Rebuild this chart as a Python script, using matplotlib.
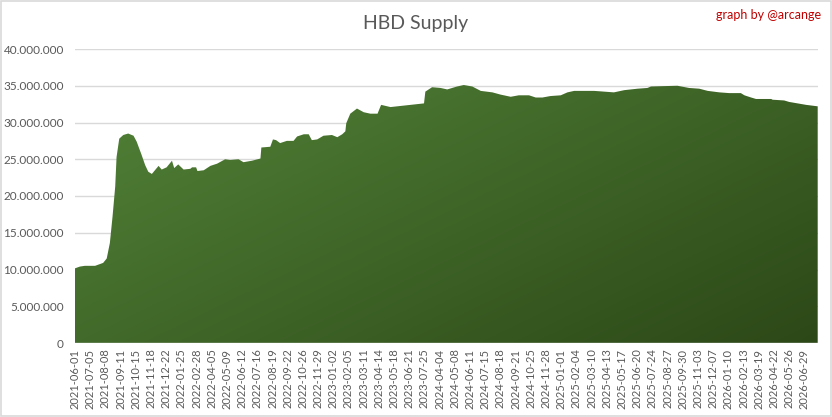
import numpy as np
import matplotlib
matplotlib.use("Agg")
import matplotlib.pyplot as plt
from matplotlib.ticker import FuncFormatter, FixedLocator
from matplotlib.patches import Rectangle
from matplotlib.colors import to_rgb

# Category labels (every 34th data point is labelled)
tick_labels = [
    "2021-06-01", "2021-07-05", "2021-08-08", "2021-09-11", "2021-10-15", "2021-11-18",
    "2021-12-22", "2022-01-25", "2022-02-28", "2022-04-05", "2022-05-09", "2022-06-12",
    "2022-07-16", "2022-08-19", "2022-09-22", "2022-10-26", "2022-11-29", "2023-01-02",
    "2023-02-05", "2023-03-11", "2023-04-14", "2023-05-18", "2023-06-21", "2023-07-25",
    "2024-04-04", "2024-05-08", "2024-06-11", "2024-07-15", "2024-08-18", "2024-09-21",
    "2024-10-25", "2024-11-28", "2025-01-01", "2025-02-04", "2025-03-10", "2025-04-13",
    "2025-05-17", "2025-06-20", "2025-07-24", "2025-08-27", "2025-09-30", "2025-11-03",
    "2025-12-07", "2026-01-10", "2026-02-13", "2026-03-19", "2026-04-22", "2026-05-26",
    "2026-06-29",
]
label_step = 34
n_points = 1663

# Sampled points: position in the category index, supply in millions of HBD
point_index = [
    0, 11, 22, 45, 63, 71, 78, 84, 90, 93, 99, 108, 119, 131, 138, 149, 157, 164, 172,
    187, 194, 205, 217, 222, 231, 243, 258, 262, 271, 274, 288, 303, 318, 336, 347, 366,
    377, 396, 415, 417, 437, 443, 450, 459, 474, 489, 497, 512, 523, 530, 542, 556, 575,
    587, 598, 605, 607, 616, 631, 646, 661, 677, 685, 706, 721, 751, 781, 784, 799, 818,
    833, 855, 870, 889, 908, 934, 952, 975, 993, 1016, 1031, 1046, 1064, 1087, 1102, 1117,
    1162, 1184, 1206, 1229, 1259, 1281, 1289, 1348, 1374, 1397, 1416, 1442, 1464, 1490,
    1498, 1513, 1524, 1558, 1561, 1587, 1598, 1617, 1636, 1662,
]
supply_millions = [
    10.16, 10.4, 10.5, 10.5, 10.9, 11.5, 13.6, 17.2, 21.3, 25.3, 27.8, 28.3, 28.5, 28.2,
    27.4, 25.6, 24.2, 23.3, 23.0, 24.1, 23.6, 23.9, 24.8, 23.8, 24.3, 23.6, 23.7, 23.9,
    23.9, 23.4, 23.5, 24.1, 24.4, 25.0, 24.9, 25.0, 24.6, 24.8, 25.1, 26.6, 26.7, 27.7,
    27.6, 27.2, 27.5, 27.5, 28.1, 28.4, 28.4, 27.6, 27.7, 28.2, 28.3, 28.0, 28.4, 28.8,
    29.9, 31.2, 31.9, 31.4, 31.2, 31.2, 32.4, 32.1, 32.2, 32.4, 32.6, 34.2, 34.8, 34.7,
    34.5, 34.9, 35.1, 34.9, 34.3, 34.1, 33.8, 33.5, 33.7, 33.7, 33.4, 33.4, 33.6, 33.7,
    34.1, 34.3, 34.3, 34.2, 34.1, 34.4, 34.6, 34.7, 34.9, 35.0, 34.7, 34.6, 34.3, 34.1,
    34.0, 34.0, 33.7, 33.4, 33.2, 33.2, 33.1, 33.0, 32.8, 32.6, 32.4, 32.2,
]
yticks = [0, 5e6, 10e6, 15e6, 20e6, 25e6, 30e6, 35e6, 40e6]

plt.rcParams['font.family'] = ['Lato', 'DejaVu Sans']

fig = plt.figure(figsize=(8.32, 4.17), dpi=100)
fig.patch.set_facecolor("white")
fig.patches.append(Rectangle((0.0015, 0.0025), 0.997, 0.995, transform=fig.transFigure,
                             fill=False, edgecolor="#d9d9d9", linewidth=1.2))

ax = fig.add_axes([75 / 832, 1 - 343 / 417, (817.7 - 75) / 832, (343 - 49) / 417])
x = np.array(point_index, dtype=float)
y = np.array(supply_millions) * 1e6

ax.set_xlim(0, n_points - 1)
ax.set_ylim(0, 40e6)

# gridlines
for t in yticks[1:]:
    ax.axhline(t, color="#d9d9d9", linewidth=1.0, zorder=0)

# gradient fill clipped by the area (light top-left -> dark bottom-right)
poly = ax.fill_between(x, 0, y, color="none", linewidth=0)
c0 = np.array(to_rgb("#54863a"))
c1 = np.array(to_rgb("#2c4817"))
h, w = 200, 400
uu, vv = np.meshgrid(np.linspace(0, 1, w), np.linspace(0, 1, h))
t = (uu * 0.55 + vv * 0.45)
img = c0[None, None, :] * (1 - t[..., None]) + c1[None, None, :] * t[..., None]
im = ax.imshow(img, extent=[0, n_points - 1, 0, 40e6], origin="upper", aspect="auto",
               zorder=2, interpolation="bilinear")
im.set_clip_path(poly.get_paths()[0], transform=ax.transData)
ax.set_xlim(0, n_points - 1)
ax.set_ylim(0, 40e6)

# bottom axis line
ax.axhline(0, color="#d9d9d9", linewidth=1.0, zorder=3)

for s in ax.spines.values():
    s.set_visible(False)

ax.yaxis.set_major_locator(FixedLocator(yticks))
ax.yaxis.set_major_formatter(FuncFormatter(lambda v, p: f"{int(v):,}".replace(",", ".")))
ax.tick_params(axis="y", length=0, pad=8, labelsize=8.5, labelcolor="#595959")

pos = [i * label_step for i in range(len(tick_labels))]
ax.set_xticks(pos)
ax.set_xticklabels(tick_labels, rotation=90, fontsize=8, color="#595959")
ax.tick_params(axis="x", length=0, pad=4)

fig.text(0.5, 1 - 23 / 417, "HBD Supply", ha="center", va="center", fontsize=14,
         color="#595959")
fig.text(821 / 832, 1 - 15 / 417, "graph by @arcange", ha="right", va="center",
         fontsize=9, color="#c00000")

fig.savefig("out.png", dpi=100, facecolor="white")
